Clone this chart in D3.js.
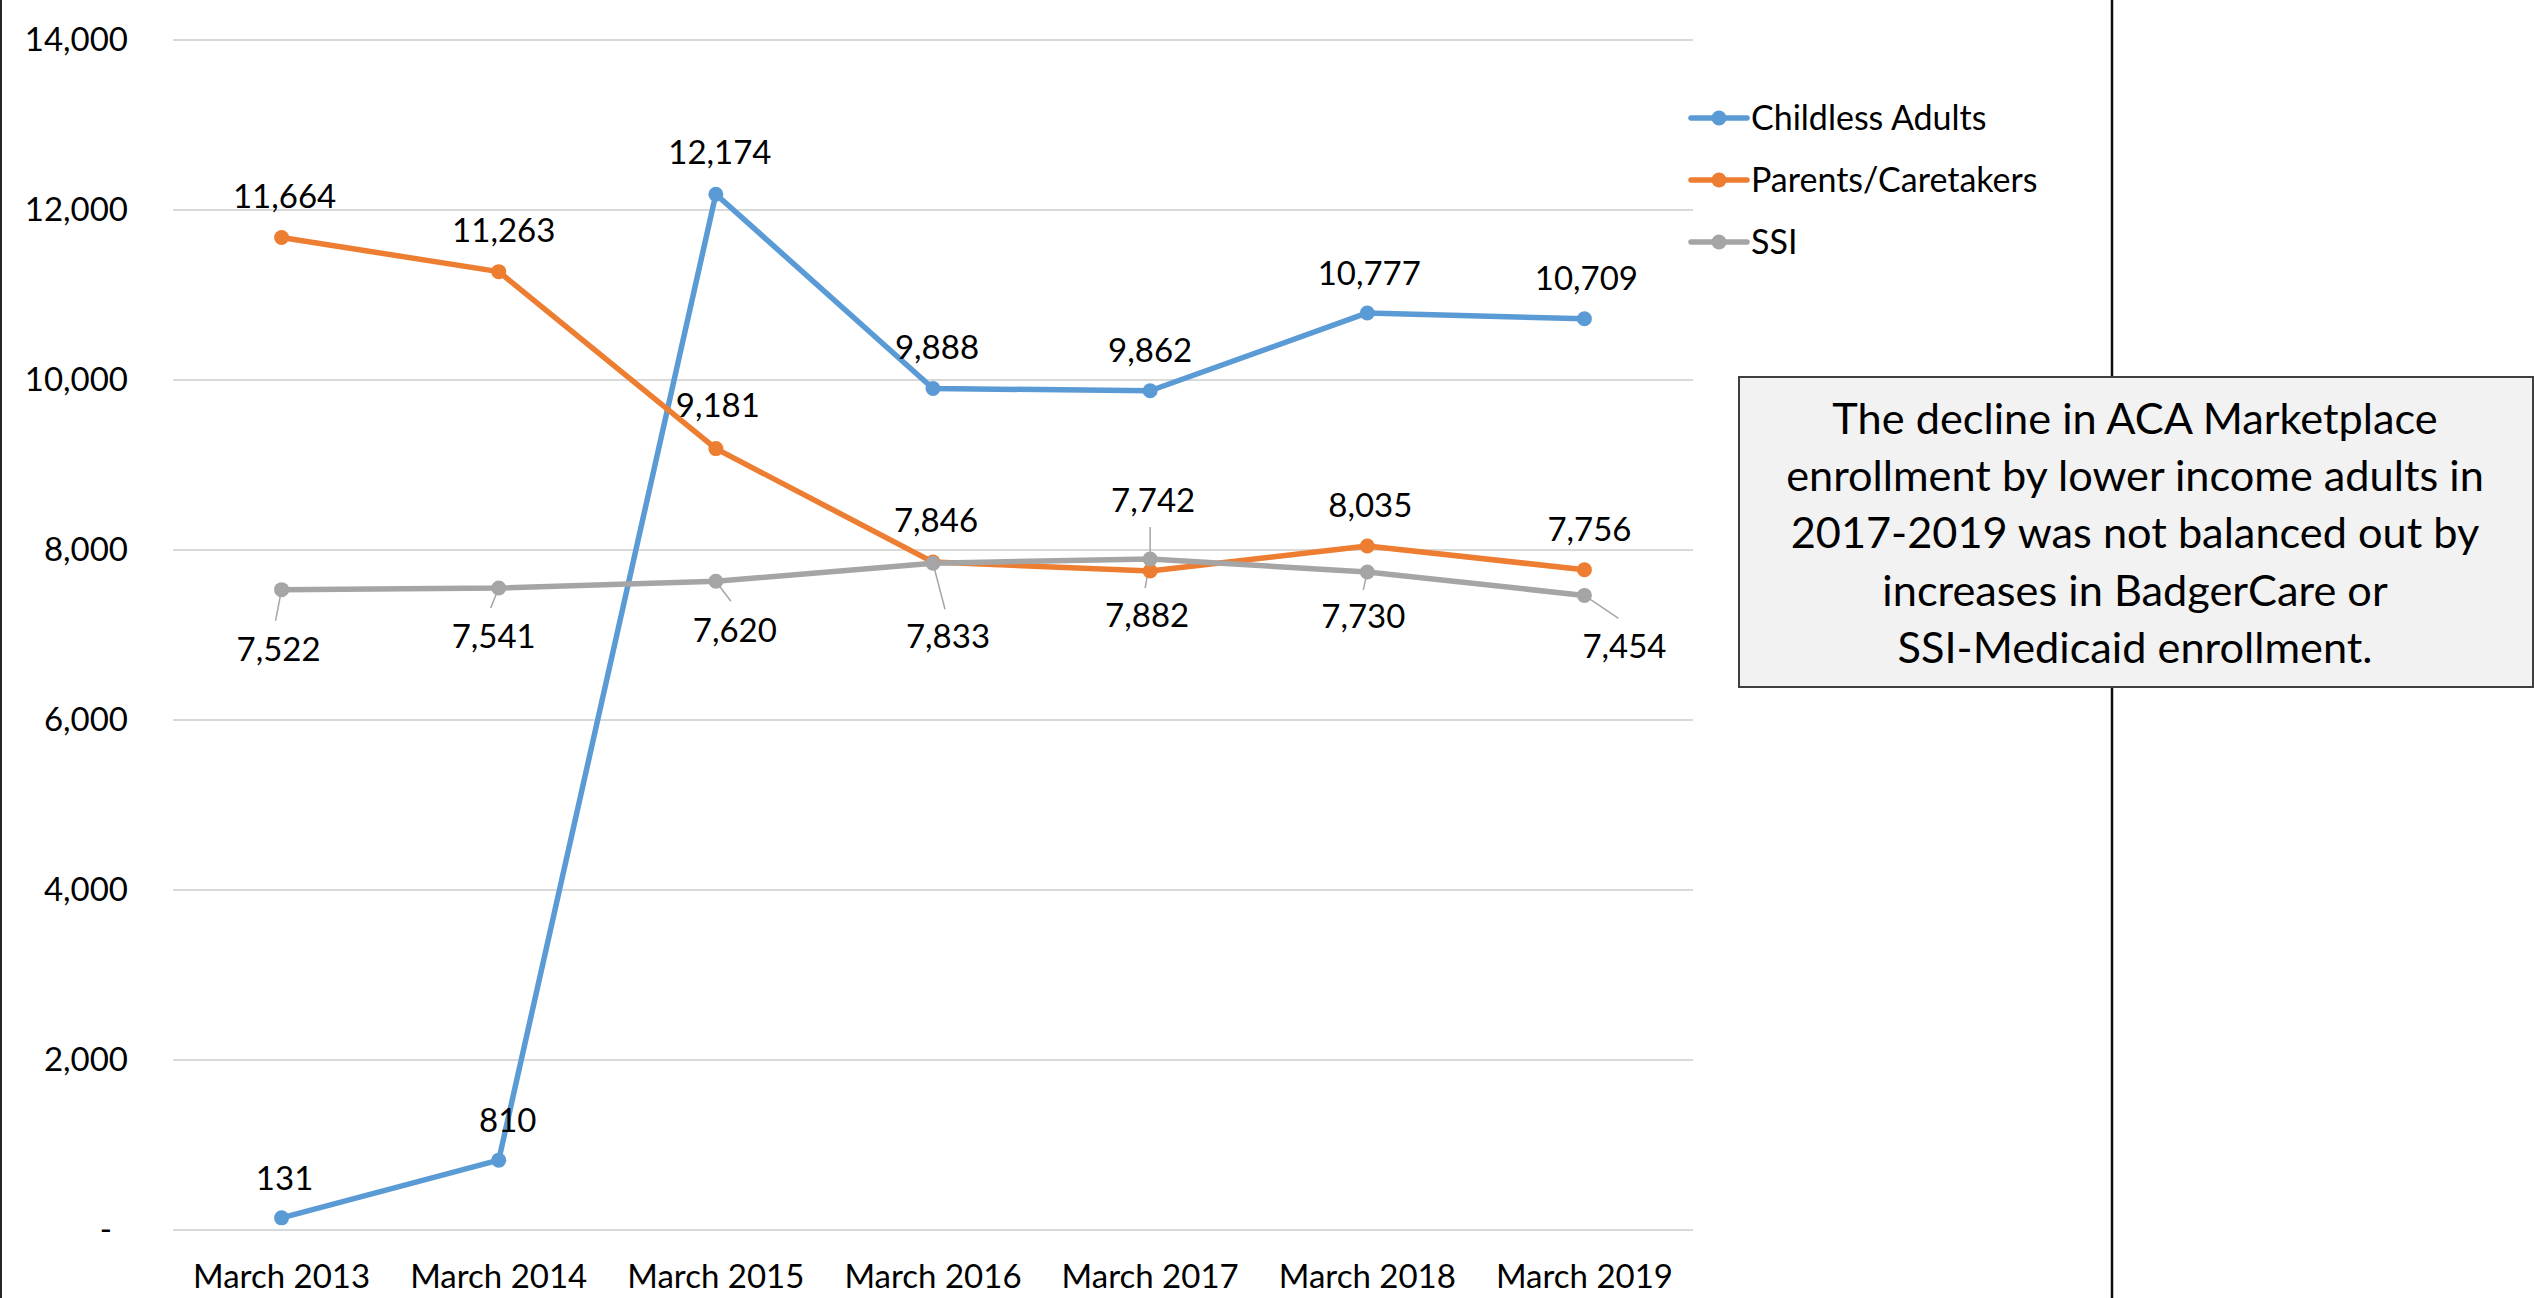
<!DOCTYPE html>
<html>
<head>
<meta charset="utf-8">
<script src="https://cdn.jsdelivr.net/npm/d3@7"></script>
<style>
  html, body { margin: 0; padding: 0; background: #fff; }
  body { font-family: Lato, "Open Sans", sans-serif; }
  .grid line { stroke: #d9d9d9; stroke-width: 2; shape-rendering: crispEdges; }
  .tick text { fill: #000; }
</style>
</head>
<body>
<div id="vis"><svg></svg></div>
<script>
// categories and series values
const months = ["March 2013", "March 2014", "March 2015", "March 2016", "March 2017", "March 2018", "March 2019"];
const childless = [131, 810, 12174, 9888, 9862, 10777, 10709];
const parents = [11664, 11263, 9181, 7846, 7742, 8035, 7756];
const ssi = [7522, 7541, 7620, 7833, 7882, 7730, 7454];
const yTicks = [0, 2000, 4000, 6000, 8000, 10000, 12000, 14000];
const seriesNames = ["Childless Adults", "Parents/Caretakers", "SSI"];
const noteLines = [
  "The decline in ACA Marketplace",
  "enrollment by lower income adults in",
  "2017-2019 was not balanced out by",
  "increases in BadgerCare or",
  "SSI-Medicaid enrollment."
];

// label placement (px from the point: dx, dy of label baseline), and leader line ends
const labelOffsets = [
  [[3, -28], [9, -28], [4, -30], [4, -30], [0, -29], [2, -28], [2, -29]],
  [[3, -30], [5, -30], [2, -32], [3, -30], [3, -59], [3, -29], [5, -29]],
  [[-3, 71], [-5, 60], [19, 61], [15, 85], [-3, 68], [-4, 56], [40, 63]]
];
const leaders = [
  [null, null, null, null, null, null, null],
  [null, null, null, null, [0, -44], null, null],
  [[-6, 31], [-8, 20], [15, 20], [12, 46], [-5, 29], [-4, 18], [34, 23]]
];

const colors = ["#5b9bd5", "#ed7d31", "#a5a5a5"];

const W = 2534, H = 1298;
const plot = {left: 173, right: 1693, top: 39, bottom: 1229};
const labelSize = "33px";

const svg = d3.select("#vis").select("svg")
  .attr("width", W)
  .attr("height", H);

svg.append("rect").attr("width", W).attr("height", H).attr("fill", "#fff");

const x = d3.scaleBand().domain(months).range([plot.left, plot.right]).padding(0);
const y = d3.scaleLinear().domain([0, 14000]).range([plot.bottom, plot.top]);
const cx = d => x(d) + x.bandwidth() / 2;

// y axis with gridlines
const yAxis = d3.axisLeft(y)
  .tickValues(yTicks)
  .tickSize(-(plot.right - plot.left))
  .tickPadding(45)
  .tickFormat(d => d === 0 ? "-" : d3.format(",")(d));

const gy = svg.append("g")
  .attr("class", "grid")
  .attr("transform", `translate(${plot.left},0)`)
  .call(yAxis);
gy.select(".domain").remove();
gy.selectAll("text")
  .attr("font-size", labelSize)
  .attr("font-family", "Lato")
  .attr("dy", "0.36em")
  .attr("dx", d => d === 0 ? -16 : 0);

// x axis labels
const xAxis = d3.axisBottom(x).tickSize(0).tickPadding(0);
const gx = svg.append("g")
  .attr("transform", `translate(0,${plot.bottom})`)
  .call(xAxis);
gx.select(".domain").remove();
gx.selectAll("text")
  .attr("font-size", labelSize)
  .attr("font-family", "Lato")
  .attr("y", 59)
  .attr("dy", 0);

const series = [childless, parents, ssi];

const line = d3.line()
  .x((d, i) => cx(months[i]))
  .y(d => y(d));

// leader lines sit under the series
series.forEach((vals, s) => {
  vals.forEach((v, i) => {
    const l = leaders[s][i];
    if (!l) return;
    svg.append("line")
      .attr("x1", cx(months[i]))
      .attr("y1", y(v))
      .attr("x2", cx(months[i]) + l[0])
      .attr("y2", y(v) + l[1])
      .attr("stroke", "#a6a6a6")
      .attr("stroke-width", 1.5);
  });
});

series.forEach((vals, s) => {
  const g = svg.append("g");
  g.append("path")
    .datum(vals)
    .attr("d", line)
    .attr("fill", "none")
    .attr("stroke", colors[s])
    .attr("stroke-width", 5.5)
    .attr("stroke-linejoin", "round");
  g.selectAll("circle")
    .data(vals)
    .enter().append("circle")
    .attr("cx", (d, i) => cx(months[i]))
    .attr("cy", d => y(d))
    .attr("r", 7.5)
    .attr("fill", colors[s]);
});

// data labels
series.forEach((vals, s) => {
  svg.append("g").selectAll("text")
    .data(vals)
    .enter().append("text")
    .attr("x", (d, i) => cx(months[i]) + labelOffsets[s][i][0])
    .attr("y", (d, i) => y(d) + labelOffsets[s][i][1])
    .attr("text-anchor", "middle")
    .attr("font-size", labelSize)
    .attr("fill", "#000")
    .text(d => d3.format(",")(d));
});

// legend
const legend = svg.append("g").attr("transform", "translate(1691,118)");
seriesNames.forEach((name, i) => {
  const row = legend.append("g").attr("transform", `translate(0,${i * 62})`);
  row.append("line")
    .attr("x1", 0).attr("x2", 56)
    .attr("stroke", colors[i]).attr("stroke-width", 5.5)
    .attr("stroke-linecap", "round");
  row.append("circle").attr("cx", 28).attr("r", 7.5).attr("fill", colors[i]);
  row.append("text")
    .attr("x", 60)
    .attr("y", 12)
    .attr("font-size", "34px")
    .attr("fill", "#000")
    .text(name);
});

// frame lines
svg.append("line")
  .attr("x1", 1).attr("x2", 1).attr("y1", 0).attr("y2", H)
  .attr("stroke", "#262626").attr("stroke-width", 2);
svg.append("line")
  .attr("x1", 2112).attr("x2", 2112).attr("y1", 0).attr("y2", H)
  .attr("stroke", "#0d0d0d").attr("stroke-width", 2.5);

// note box
svg.append("rect")
  .attr("x", 1739).attr("y", 377)
  .attr("width", 794).attr("height", 310)
  .attr("fill", "#f2f2f2")
  .attr("stroke", "#404040")
  .attr("stroke-width", 2);

svg.append("g").selectAll("text")
  .data(noteLines)
  .enter().append("text")
  .attr("x", 2135)
  .attr("y", (d, i) => 434 + i * 57.2)
  .attr("text-anchor", "middle")
  .attr("font-size", "43.3px")
  .attr("fill", "#000")
  .text(d => d);
</script>
</body>
</html>
